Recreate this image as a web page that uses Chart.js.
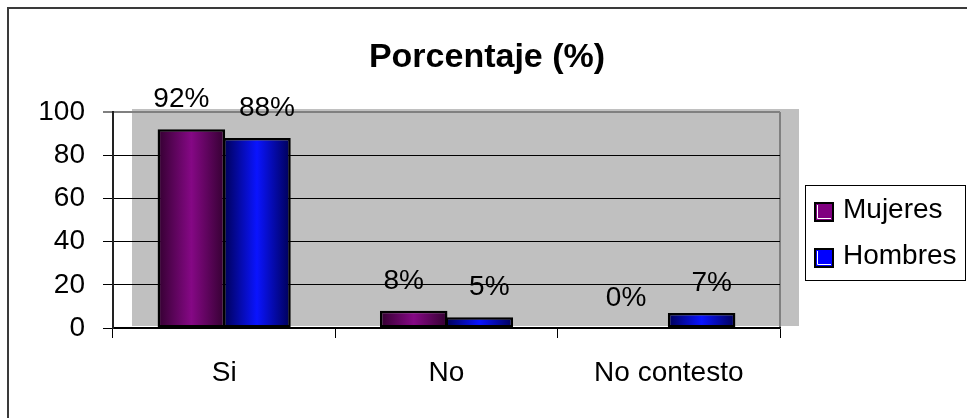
<!DOCTYPE html>
<html><head><meta charset="utf-8">
<script src="https://cdn.jsdelivr.net/npm/chart.js@4/dist/chart.umd.min.js"></script>
<style>html,body{margin:0;padding:0;background:#fff}canvas{display:block}</style>
</head><body>
<canvas id="c" width="967" height="418"></canvas>
<script>
const categories = ['Si', 'No', 'No contesto'];
const mujeres = [92, 8, 0];
const hombres = [88, 5, 7];
const seriesNames = ['Mujeres', 'Hombres'];
const yTickValues = [0, 20, 40, 60, 80, 100];
const chartTitle = 'Porcentaje (%)';

const FONT = '"Liberation Sans", Arial, sans-serif';
const palettes = [
  { dark: '#330030', light: '#850885', solid: '#800080', labelShift: -10 },
  { dark: '#000055', light: '#0a14ff', solid: '#0000ff', labelShift: 10 }
];

function barGradient(pal) {
  return function (ctx) {
    const el = ctx.element;
    if (!el || el.x === undefined || !el.width) return pal.solid;
    const g = ctx.chart.ctx.createLinearGradient(el.x - el.width / 2, 0, el.x + el.width / 2, 0);
    g.addColorStop(0, pal.dark);
    g.addColorStop(0.5, pal.light);
    g.addColorStop(1, pal.dark);
    return g;
  };
}

const decor = {
  id: 'decor',
  beforeDraw(chart) {
    const c = chart.ctx, ca = chart.chartArea;
    c.save();
    c.fillStyle = '#fff';
    c.fillRect(0, 0, chart.width, chart.height);
    // back wall
    c.fillStyle = '#c0c0c0';
    c.fillRect(ca.left + 19, ca.top - 3, ca.right - ca.left, ca.bottom - ca.top + 1);
    // right wall edge
    c.strokeStyle = '#808080';
    c.lineWidth = 2;
    c.beginPath();
    c.moveTo(ca.right, ca.top);
    c.lineTo(ca.right, ca.bottom);
    c.stroke();
    c.restore();
  },
  afterDraw(chart) {
    const c = chart.ctx;
    c.save();
    // data labels
    c.font = '28px ' + FONT;
    c.fillStyle = '#000';
    c.textAlign = 'center';
    c.textBaseline = 'alphabetic';
    chart.data.datasets.forEach((ds, di) => {
      const meta = chart.getDatasetMeta(di);
      meta.data.forEach((el, i) => {
        c.fillText(ds.data[i] + '%', el.x + palettes[di].labelShift, el.y - 22);
      });
    });
    // title
    c.font = 'bold 34px ' + FONT;
    c.fillText(chartTitle, 487, 67);
    // legend
    c.lineWidth = 1;
    c.strokeStyle = '#000';
    c.strokeRect(805.5, 185.5, 160, 95);
    c.textAlign = 'left';
    c.font = '28px ' + FONT;
    const rows = [203, 249];
    chart.data.datasets.forEach((ds, di) => {
      const y = rows[di];
      c.fillStyle = palettes[di].solid;
      c.fillRect(815, y, 18, 18);
      c.strokeStyle = '#fff';
      c.lineWidth = 1;
      c.beginPath();
      c.moveTo(817.5, y + 2);
      c.lineTo(817.5, y + 15.5);
      c.lineTo(831, y + 15.5);
      c.stroke();
      c.strokeStyle = '#000';
      c.lineWidth = 2;
      c.strokeRect(815, y, 18, 18);
      c.fillStyle = '#000';
      c.fillText(ds.label, 843, y + 15);
    });
    // outer frame
    c.strokeStyle = '#3a3a3a';
    c.lineWidth = 2;
    c.beginPath();
    c.moveTo(8, chart.height + 2);
    c.lineTo(8, 8);
    c.lineTo(chart.width + 2, 8);
    c.stroke();
    c.restore();
  }
};

const chart = new Chart(document.getElementById('c'), {
  type: 'bar',
  data: {
    labels: categories,
    datasets: [
      { label: seriesNames[0], data: mujeres, backgroundColor: barGradient(palettes[0]),
        borderColor: '#000', borderWidth: 2.5, borderSkipped: false },
      { label: seriesNames[1], data: hombres, backgroundColor: barGradient(palettes[1]),
        borderColor: '#000', borderWidth: 2.5, borderSkipped: false }
    ]
  },
  options: {
    responsive: false,
    animation: false,
    devicePixelRatio: 1,
    layout: { padding: { left: 0, top: 112, right: 187, bottom: 0 } },
    datasets: { bar: { categoryPercentage: 0.59, barPercentage: 1.03 } },
    plugins: { legend: { display: false }, title: { display: false }, tooltip: { enabled: false } },
    scales: {
      x: {
        offset: true,
        afterFit(s) { s.height = 90; },
        grid: { display: true, offset: true, drawOnChartArea: false, drawTicks: true, tickLength: 10, color: '#000', lineWidth: 1 },
        border: { display: true, color: '#000', width: 1.5 },
        ticks: { color: '#000', font: { family: FONT, size: 28 }, padding: 18, maxRotation: 0 }
      },
      y: {
        min: 0, max: 100,
        afterFit(s) { s.width = 113; },
        afterBuildTicks(s) { s.ticks = yTickValues.map(v => ({ value: v })); },
        grid: {
          color: (ctx) => (ctx.tick && ctx.tick.value === 100 ? '#808080' : '#000'),
          lineWidth: (ctx) => (ctx.tick && ctx.tick.value === 100 ? 2 : 1),
          drawTicks: true, tickLength: 10
        },
        border: { display: true, color: '#222', width: 2 },
        ticks: { color: '#000', font: { family: FONT, size: 28 }, padding: 18 }
      }
    }
  },
  plugins: [decor]
});
chart.update();
</script>
</body></html>
